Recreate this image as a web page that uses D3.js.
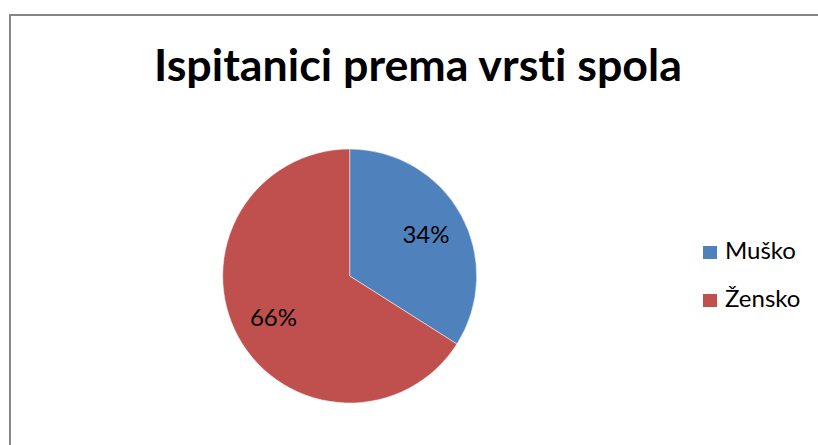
<!DOCTYPE html>
<html><head><meta charset="utf-8">
<script src="https://cdn.jsdelivr.net/npm/d3@7"></script>
<style>html,body{margin:0;padding:0;background:#fff;overflow:hidden} text{font-variant-ligatures:none;font-feature-settings:"liga" 0,"clig" 0}</style>
</head><body>
<svg id="chart" width="818" height="445"></svg>
<script>
const titleText = "Ispitanici prema vrsti spola";
const categories = ["Muško", "Žensko"];
const values = [34, 66];
const labels = ["34%", "66%"];
const colors = ["#4F81BD", "#C0504D"];

const svg = d3.select("#chart");
const font = "Lato, 'Open Sans', 'DejaVu Sans', sans-serif";

svg.append("path")
  .attr("d", "M10,445 L10,15 L818,15")
  .attr("fill", "none").attr("stroke", "#868686").attr("stroke-width", 2);

const title = svg.append("text")
  .attr("x", 154).attr("y", 81)
  .attr("font-family", font).attr("font-weight", "bold")
  .attr("font-size", 44).attr("fill", "#000").text(titleText);
const tw = title.node().getComputedTextLength();
title.attr("font-size", 44 * 528 / tw);

const cx = 349.7, cy = 276, R = 127;
const pie = d3.pie().sort(null).value(d => d)(values);
const arc = d3.arc().innerRadius(0).outerRadius(R);
const labelArc = d3.arc().innerRadius(87).outerRadius(87);
const g = svg.append("g").attr("transform", `translate(${cx},${cy})`);
g.selectAll("path.slice").data(pie).join("path")
  .attr("class", "slice")
  .attr("d", arc).attr("fill", (d, i) => colors[i])
  .attr("stroke", "#fff").attr("stroke-width", 0.5);
g.selectAll("text.lbl").data(pie).join("text")
  .attr("class", "lbl")
  .attr("x", d => labelArc.centroid(d)[0])
  .attr("y", d => labelArc.centroid(d)[1])
  .attr("dy", "0.35em")
  .attr("text-anchor", "middle")
  .attr("font-family", font).attr("font-size", 24).attr("fill", "#000")
  .text((d, i) => labels[i]);

const leg = svg.append("g").attr("transform", "translate(703,246)");
const item = leg.selectAll("g").data(categories).join("g")
  .attr("transform", (d, i) => `translate(0,${i * 48})`);
item.append("rect").attr("width", 14).attr("height", 13)
  .attr("fill", (d, i) => colors[i]);
item.append("text").attr("x", 22).attr("y", 13)
  .attr("font-family", font).attr("font-size", 24).attr("fill", "#000")
  .text(d => d);
</script>
</body></html>
